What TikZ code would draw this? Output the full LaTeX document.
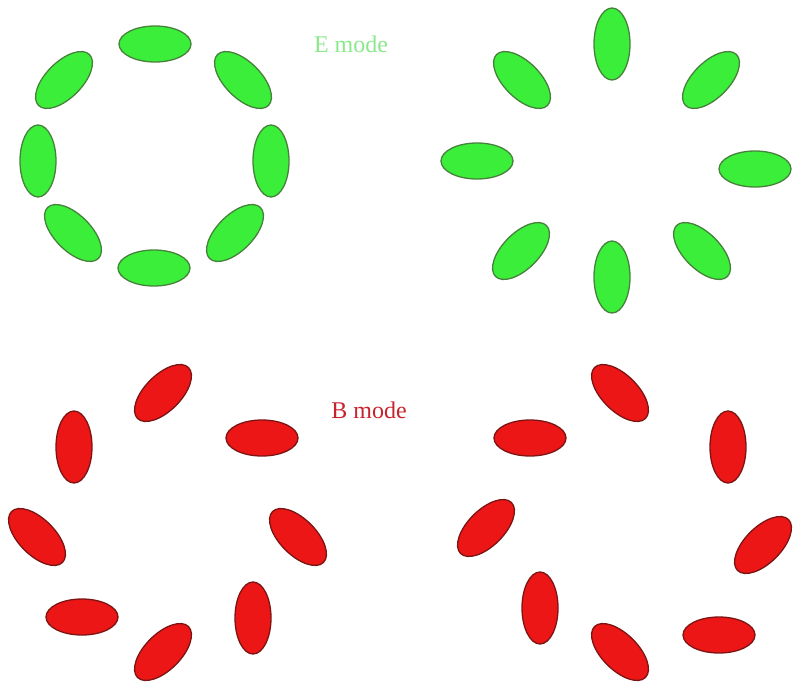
\documentclass[tikz,border=0pt]{standalone}
\usepackage{fontspec}
\setmainfont{Liberation Serif}
\usepackage{xcolor}
\usetikzlibrary{shapes.geometric, positioning}

\definecolor{efill}{RGB}{58,238,58}
\definecolor{edraw}{RGB}{70,130,60}
\definecolor{bfill}{RGB}{236,22,22}
\definecolor{bdraw}{RGB}{125,20,20}
\definecolor{etext}{RGB}{140,232,140}
\definecolor{btext}{RGB}{200,35,45}

\begin{document}
\begin{tikzpicture}[
    x=1pt, y=-1pt,
    every node/.style={font=\fontsize{24}{28}\selectfont},
    stick/.style={ellipse, minimum width=72pt, minimum height=36pt, inner sep=0pt, line width=1.3pt},
    estick/.style={stick, draw=edraw, fill=efill},
    bstick/.style={stick, draw=bdraw, fill=bfill}
]
\useasboundingbox (0,0) rectangle (794,682);

% E mode, tangential ring
\node[estick]            (et1) at (155,44)  {};
\node[estick, rotate=45] (et2) at (64,80)   {};
\node[estick, rotate=-45](et3) at (243,80)  {};
\node[estick, rotate=90] (et4) at (38,161)  {};
\node[estick, rotate=90] (et5) at (271,161) {};
\node[estick, rotate=-45](et6) at (73,233)  {};
\node[estick, rotate=45] (et7) at (235,233) {};
\node[estick]            (et8) at (154,268) {};

% E mode, radial ring
\node[estick, rotate=90] (er1) at (612,44)  {};
\node[estick, rotate=-45](er2) at (522,80)  {};
\node[estick, rotate=45] (er3) at (711,80)  {};
\node[estick]            (er4) at (477,161) {};
\node[estick]            (er5) at (755,169) {};
\node[estick, rotate=45] (er6) at (521,251) {};
\node[estick, rotate=-45](er7) at (702,251) {};
\node[estick, rotate=90] (er8) at (612,277) {};

\node[text=etext] (elabel) at (351,44) {E mode};

% B mode, left-handed
\node[bstick, rotate=45] (bl1) at (163,393) {};
\node[bstick, rotate=90] (bl2) at (74,447)  {};
\node[bstick]            (bl3) at (262,438) {};
\node[bstick, rotate=-45](bl4) at (37,537)  {};
\node[bstick, rotate=-45](bl5) at (298,537) {};
\node[bstick]            (bl6) at (82,617)  {};
\node[bstick, rotate=45] (bl7) at (163,652) {};
\node[bstick, rotate=90] (bl8) at (253,618) {};

% B mode, right-handed
\node[bstick, rotate=-45](br1) at (620,393) {};
\node[bstick]            (br2) at (530,438) {};
\node[bstick, rotate=90] (br3) at (728,447) {};
\node[bstick, rotate=45] (br4) at (486,528) {};
\node[bstick, rotate=45] (br5) at (763,545) {};
\node[bstick, rotate=90] (br6) at (540,608) {};
\node[bstick, rotate=-45](br7) at (620,652) {};
\node[bstick]            (br8) at (719,635) {};

\node[text=btext] (blabel) at (369,410) {B mode};
\end{tikzpicture}
\end{document}
